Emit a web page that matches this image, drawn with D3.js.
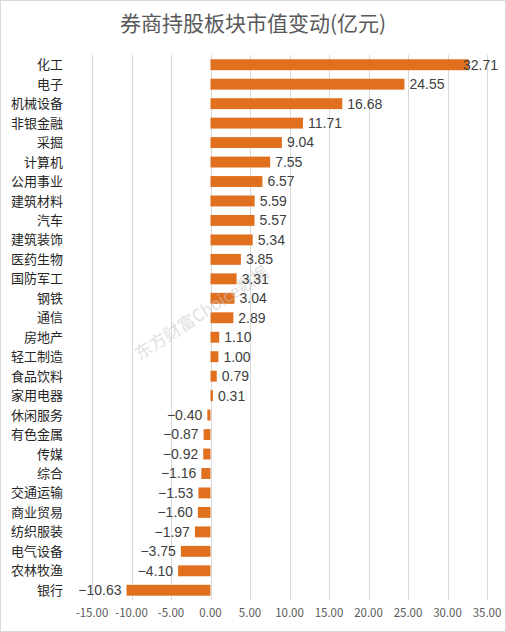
<!DOCTYPE html>
<html>
<head>
<meta charset="utf-8">
<script src="https://cdn.jsdelivr.net/npm/d3@7"></script>
<style>
  body { margin: 0; background: #fff; }
  svg { display: block; font-family: "Noto Sans CJK SC", "Noto Sans", sans-serif; }
</style>
</head>
<body>
<svg id="chart"></svg>
<script>
// sectors and market value change (100m yuan)
var sectors = ["化工", "电子", "机械设备", "非银金融", "采掘", "计算机", "公用事业", "建筑材料",
  "汽车", "建筑装饰", "医药生物", "国防军工", "钢铁", "通信", "房地产", "轻工制造", "食品饮料",
  "家用电器", "休闲服务", "有色金属", "传媒", "综合", "交通运输", "商业贸易", "纺织服装",
  "电气设备", "农林牧渔", "银行"];
var values = [32.71, 24.55, 16.68, 11.71, 9.04, 7.55, 6.57, 5.59, 5.57, 5.34, 3.85, 3.31,
  3.04, 2.89, 1.10, 1.00, 0.79, 0.31, -0.40, -0.87, -0.92, -1.16, -1.53, -1.60, -1.97,
  -3.75, -4.10, -10.63];
var ticks = [-15, -10, -5, 0, 5, 10, 15, 20, 25, 30, 35];

var width = 506, height = 632;
var svg = d3.select("#chart").attr("width", width).attr("height", height);

// outer frame
svg.append("rect")
  .attr("x", 0.5).attr("y", 0.5)
  .attr("width", width - 1).attr("height", height - 1)
  .attr("fill", "#fff").attr("stroke", "#d9d9d9");

var data = sectors.map(function(s, i) { return {name: s, value: values[i]}; });

var x = d3.scaleLinear().domain([-15, 35]).range([92, 487]);
var y = d3.scaleBand().domain(sectors).range([55, 600]).paddingInner(0.44).paddingOuter(0.22);

svg.append("text")
  .attr("x", 253).attr("y", 31)
  .attr("text-anchor", "middle")
  .attr("font-size", 21)
  .attr("fill", "#595959")
  .text("券商持股板块市值变动(亿元)");

// vertical gridlines
svg.append("g").selectAll("line")
  .data(ticks)
  .enter().append("line")
  .attr("x1", function(d) { return Math.round(x(d)) + 0.5; })
  .attr("x2", function(d) { return Math.round(x(d)) + 0.5; })
  .attr("y1", 55).attr("y2", 600)
  .attr("stroke", "#d9d9d9");

// tick labels
svg.append("g").selectAll("text")
  .data(ticks)
  .enter().append("text")
  .attr("x", function(d) { return x(d); })
  .attr("y", 617)
  .attr("text-anchor", "middle")
  .attr("font-size", 11.5)
  .attr("fill", "#595959")
  .text(function(d) { return d.toFixed(2); });

// bars
svg.append("g").selectAll("rect")
  .data(data)
  .enter().append("rect")
  .attr("x", function(d) { return x(Math.min(0, d.value)); })
  .attr("y", function(d) { return y(d.name); })
  .attr("width", function(d) { return Math.abs(x(d.value) - x(0)); })
  .attr("height", y.bandwidth())
  .attr("fill", "#e0701e");

// watermark
svg.append("text")
  .attr("transform", "translate(205,318) rotate(-33)")
  .attr("text-anchor", "middle")
  .attr("font-size", 17)
  .attr("fill", "#c8c8c8")
  .attr("opacity", 0.55)
  .text("东方财富Choice数据");

// category labels
svg.append("g").selectAll("text")
  .data(data)
  .enter().append("text")
  .attr("x", 63)
  .attr("y", function(d) { return y(d.name) + y.bandwidth() / 2; })
  .attr("dy", "0.35em")
  .attr("text-anchor", "end")
  .attr("font-size", 13)
  .attr("fill", "#262626")
  .text(function(d) { return d.name; });

// value labels
svg.append("g").selectAll("text")
  .data(data)
  .enter().append("text")
  .attr("x", function(d) {
    if (d.value < 0) return x(d.value) - 5;
    return Math.min(x(d.value) + 5, 463);
  })
  .attr("y", function(d) { return y(d.name) + y.bandwidth() / 2; })
  .attr("dy", "0.35em")
  .attr("text-anchor", function(d) { return d.value < 0 ? "end" : "start"; })
  .attr("font-family", "'Liberation Sans', Arial, sans-serif")
  .attr("font-size", 14)
  .attr("fill", "#404040")
  .text(function(d) { return d.value < 0 ? "\u2212" + Math.abs(d.value).toFixed(2) : d.value.toFixed(2); });
</script>
</body>
</html>
